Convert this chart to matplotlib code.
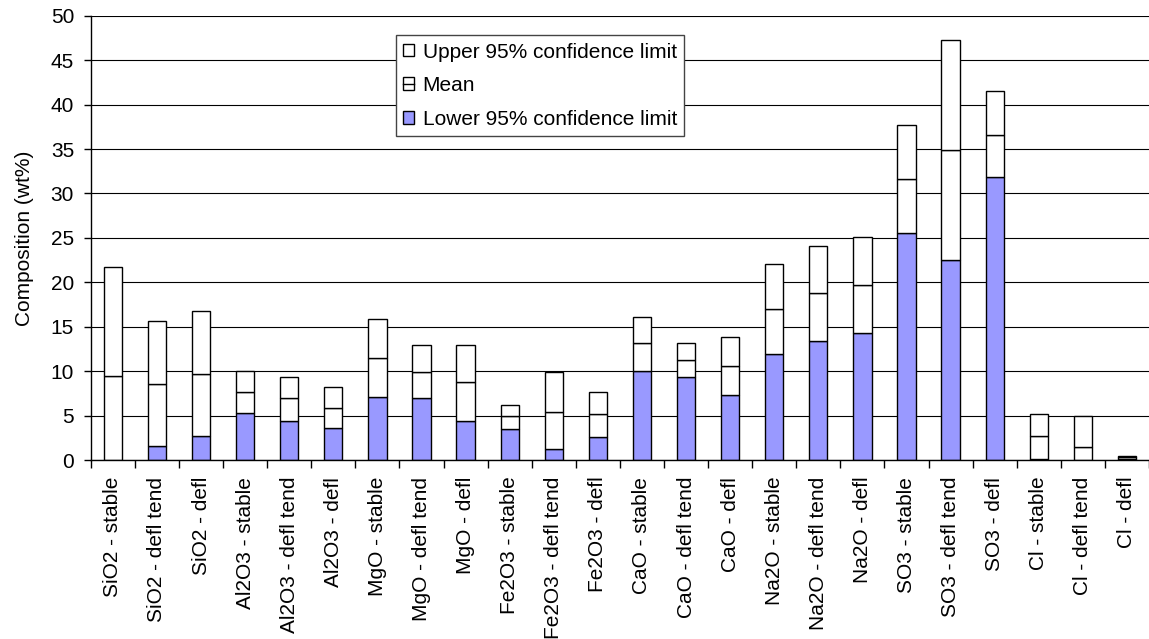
import numpy as np
import matplotlib.pyplot as plt
from matplotlib.patches import Patch
from matplotlib.lines import Line2D
from matplotlib.legend_handler import HandlerTuple

plt.rcParams['font.family'] = ['Liberation Sans', 'DejaVu Sans']

# composition per oxide and stability class (wt%)
categories = ["SiO2 - stable", "SiO2 - defl tend", "SiO2 - defl",
              "Al2O3 - stable", "Al2O3 - defl tend", "Al2O3 - defl",
              "MgO - stable", "MgO - defl tend", "MgO - defl",
              "Fe2O3 - stable", "Fe2O3 - defl tend", "Fe2O3 - defl",
              "CaO - stable", "CaO - defl tend", "CaO - defl",
              "Na2O - stable", "Na2O - defl tend", "Na2O - defl",
              "SO3 - stable", "SO3 - defl tend", "SO3 - defl",
              "Cl - stable", "Cl - defl tend", "Cl - defl"]
lower = [0.0, 1.6, 2.7, 5.25, 4.4, 3.65, 7.1, 6.95, 4.4,
         3.45, 1.25, 2.55, 10.05, 9.3, 7.3, 11.9, 13.35, 14.3,
         25.6, 22.5, 31.8, 0.15, 0.0, 0.15]
mean = [9.5, 8.55, 9.65, 7.65, 6.95, 5.9, 11.45, 9.85, 8.8,
        4.95, 5.45, 5.15, 13.2, 11.3, 10.55, 17.0, 18.8, 19.7,
        31.6, 34.9, 36.55, 2.75, 1.45, 0.3]
upper = [21.75, 15.7, 16.8, 10.05, 9.3, 8.2, 15.85, 12.95, 12.95,
         6.2, 9.85, 7.7, 16.1, 13.2, 13.85, 22.1, 24.1, 25.05,
         37.65, 47.3, 41.55, 5.15, 4.95, 0.45]

lower = np.array(lower)
mean = np.array(mean)
upper = np.array(upper)
x = np.arange(len(categories))

fig = plt.figure(figsize=(11.49, 6.39), dpi=100)
ax = fig.add_axes([0.079, 0.2801, 0.921, 0.6953])

w = 0.415
ec = dict(edgecolor="black", linewidth=1.0)
ax.bar(x, lower, w, color="#9999ff", **ec)
ax.bar(x, mean - lower, w, bottom=lower, color="white", **ec)
ax.bar(x, upper - mean, w, bottom=mean, color="white", **ec)

ax.set_xlim(-0.5, len(categories) - 0.5)
ax.set_ylim(0, 50)
ax.set_yticks(np.arange(0, 51, 5))
ax.yaxis.grid(True, color="black", linewidth=0.8)
ax.set_axisbelow(True)
for s in ["top", "right"]:
    ax.spines[s].set_visible(False)
ax.spines["left"].set_linewidth(1.0)
ax.spines["bottom"].set_linewidth(1.0)

ax.set_xticks(x)
ax.set_xticklabels(categories, rotation=90, fontsize=15)
ax.tick_params(axis="x", which="major", length=0, pad=12)
ax.set_xticks(np.arange(-0.5, len(categories), 1), minor=True)
ax.tick_params(axis="x", which="minor", length=6, width=1.0)
ax.tick_params(axis="y", length=5, width=1.0, pad=7, labelsize=15)
ax.set_ylabel("Composition (wt%)", fontsize=15, labelpad=12)

handles = [Patch(facecolor="white", edgecolor="black", linewidth=1.0),
           (Patch(facecolor="white", edgecolor="black", linewidth=1.0),
            Line2D([], [], color="black", linewidth=1.0)),
           Patch(facecolor="#9999ff", edgecolor="black", linewidth=1.0)]
labels = ["Upper 95% confidence limit", "Mean", "Lower 95% confidence limit"]
leg = ax.legend(handles, labels, loc="upper left", bbox_to_anchor=(0.288, 0.956),
                borderaxespad=0, fontsize=15, handlelength=0.55, handleheight=0.55,
                handletextpad=0.4, labelspacing=0.7, borderpad=0.35, fancybox=False,
                framealpha=1, edgecolor="#444444",
                handler_map={tuple: HandlerTuple(ndivide=1)})
leg.get_frame().set_linewidth(1.0)

fig.savefig("out.png", dpi=100)
